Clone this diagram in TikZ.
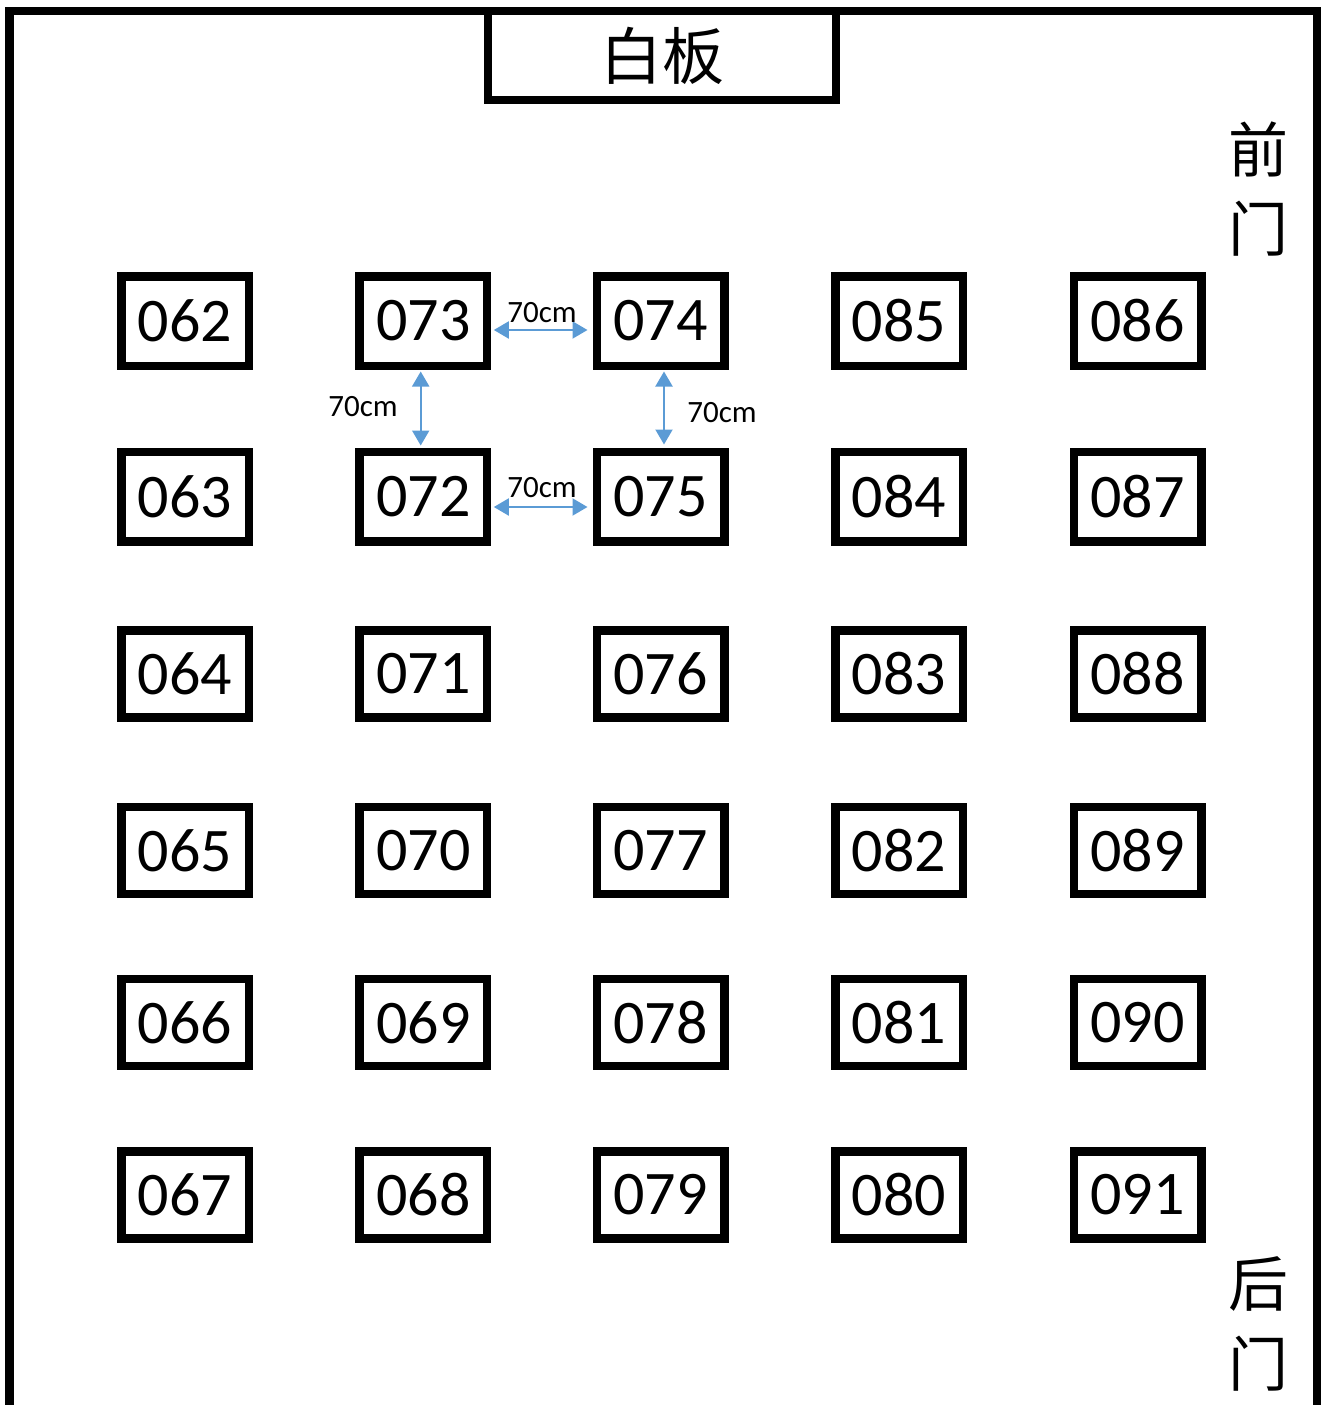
\documentclass[tikz,border=0pt]{standalone}
\usepackage{fontspec}
\setmainfont{Carlito}
\newfontfamily\cjk{Noto Sans CJK SC}
\usetikzlibrary{arrows.meta,calc}
\definecolor{dimblue}{HTML}{5B9BD5}
\begin{document}
\begin{tikzpicture}[x=1pt,y=-1pt,
  desk/.style={draw,line width=8.5pt,minimum width=127.5pt,inner sep=0pt,font=\fontsize{62}{62}\selectfont},
  dimarrow/.style={draw=dimblue,line width=2pt,{Triangle[length=15pt,width=17pt]}-{Triangle[length=15pt,width=17pt]}},
  dimlabel/.style={inner sep=0pt,font=\fontsize{31}{31}\selectfont},
  cjklabel/.style={inner sep=0pt,font=\cjk\fontsize{60}{60}\selectfont}]
\useasboundingbox (0,0) rectangle (1322,1405);
% walls
\draw[line width=8.5pt,line join=miter] (9.5,1420) -- (9.5,11) -- (1317,11) -- (1317,1420);
% whiteboard
\node[draw,line width=8pt,minimum width=348pt,minimum height=89pt,inner sep=0pt,font=\cjk\fontsize{62}{62}\selectfont] (wb) at (662,55.5) {白板};
% desks
\foreach \x/\y/\h/\t in {
  185/321/89.5/062, 185/496.5/89.5/063, 185/674/87/064, 185/850.5/87/065, 185/1022.5/87/066, 185/1195/87/067,
  423.3/321/89.5/073, 423.3/496.5/89.5/072, 423.3/674/87/071, 423.3/850.5/87/070, 423.3/1022.5/87/069, 423.3/1195/87/068,
  660.5/321/89.5/074, 660.5/496.5/89.5/075, 660.5/674/87/076, 660.5/850.5/87/077, 660.5/1022.5/87/078, 660.5/1195/87/079,
  899/321/89.5/085, 899/496.5/89.5/084, 899/674/87/083, 899/850.5/87/082, 899/1022.5/87/081, 899/1195/87/080,
  1137.5/321/89.5/086, 1137.5/496.5/89.5/087, 1137.5/674/87/088, 1137.5/850.5/87/089, 1137.5/1022.5/87/090, 1137.5/1195/87/091}
  \node[desk,minimum height=\h pt] (d\t) at (\x,\y) {\t};
% distance arrows
\draw[dimarrow,shorten <=2.5pt,shorten >=5pt] ($(d073.east)+(0,9)$) -- ($(d074.west)+(0,9)$);
\draw[dimarrow,shorten <=2.5pt,shorten >=5pt] ($(d072.east)+(0,10.5)$) -- ($(d075.west)+(0,10.5)$);
\draw[dimarrow,shorten <=1.5pt,shorten >=2pt] ($(d073.south)+(-2.6,0)$) -- ($(d072.north)+(-2.6,0)$);
\draw[dimarrow,shorten <=1.5pt,shorten >=3pt] ($(d074.south)+(3.5,0)$) -- ($(d075.north)+(3.5,0)$);
\node[dimlabel] (l1) at (542,313) {70cm};
\node[dimlabel] (l2) at (363,407) {70cm};
\node[dimlabel] (l3) at (722,413) {70cm};
\node[dimlabel] (l4) at (542,488) {70cm};
% doors
\node[cjklabel] (qian) at (1258,149) {前};
\node[cjklabel] (men1) at (1258,229) {门};
\node[cjklabel] (hou) at (1258,1284) {后};
\node[cjklabel] (men2) at (1258,1364) {门};
\end{tikzpicture}
\end{document}
